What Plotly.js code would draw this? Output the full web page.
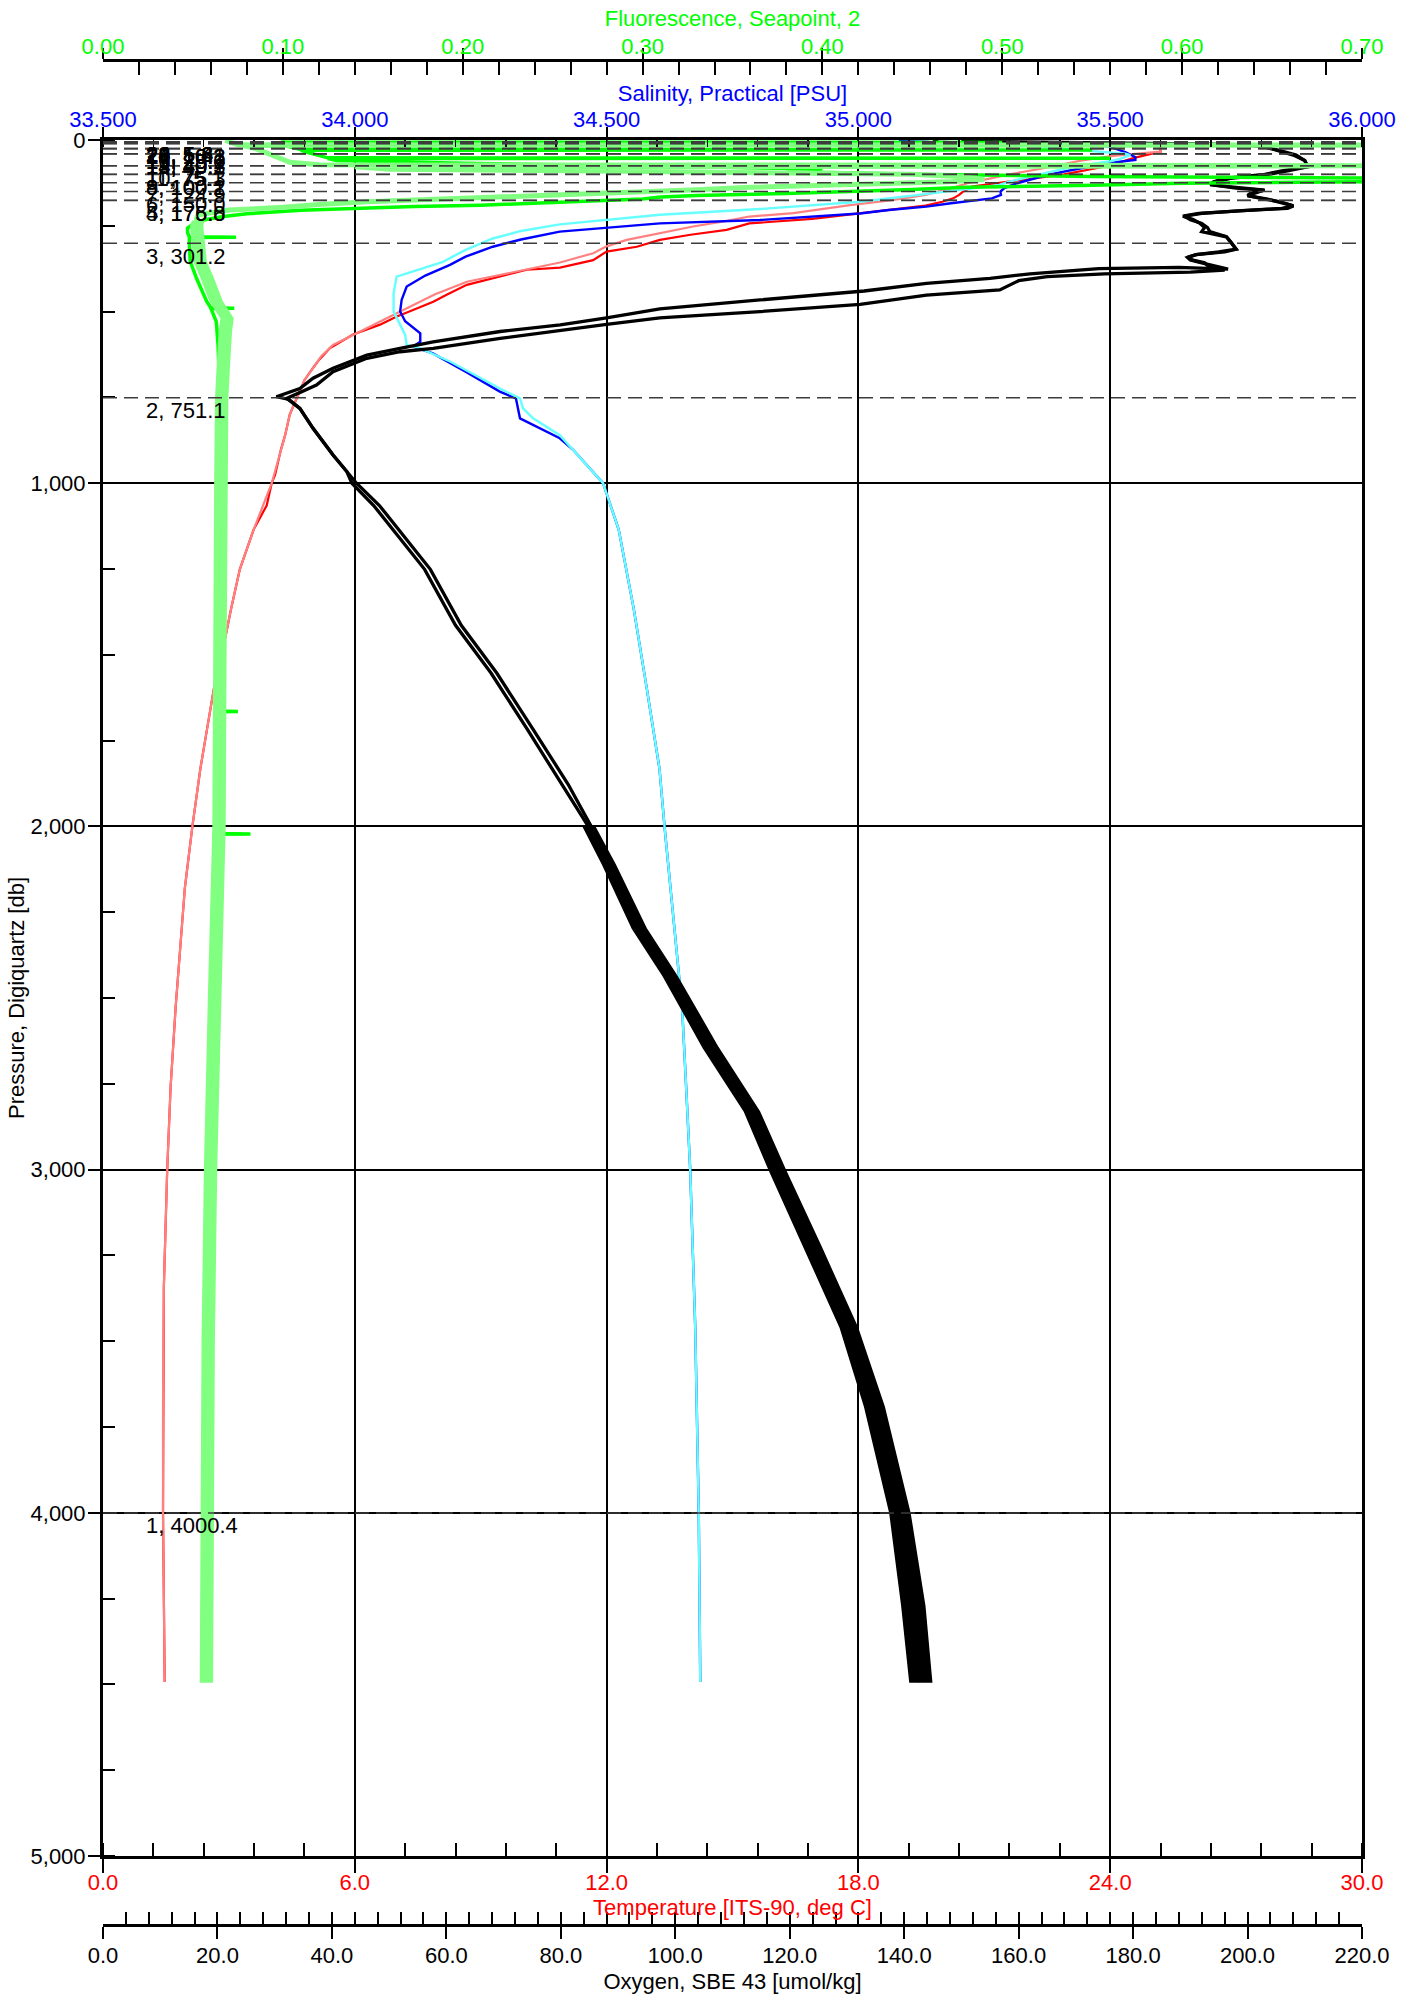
<!DOCTYPE html>
<html><head><meta charset="utf-8">
<script src="https://cdn.plot.ly/plotly-3.0.1.min.js"></script>
<style>html,body{margin:0;padding:0;background:#fff}#chart{width:1405px;height:1999px}</style>
</head><body><div id="chart"></div>
<script>
// ---------- DATA ----------
// Temperature, cast 1 (red) and cast 2 (salmon)
const tempP1 = [3,20,34,52,75,100,115,129,136,150,160,170,180,191,200,214,230,243,262,276,291,311,325,350,372,378,400,422,450,471,500,514,538,567,606,640,665,700,751,800,860,902,976,1000,1065,1135,1251,1367,1483,1600,1832,2000,2180,2529,2761,3000,3342,3691,4000,4493];
const tempT1 = [25.2,25.2,25.2,24.57,23.97,22.9,22.0,21.2,20.7,20.5,20.4,20.26,20.0,19.6,19.0,18.04,16.9,15.4,14.86,14.0,13.27,12.72,12.0,11.68,10.89,10.1,9.4,8.67,8.2,7.87,7.3,7.0,6.6,5.96,5.41,5.15,5.0,4.8,4.62,4.45,4.34,4.24,4.10,4.02,3.90,3.59,3.26,3.05,2.86,2.64,2.32,2.13,1.95,1.73,1.61,1.53,1.45,1.43,1.43,1.47];
const tempP2 = [3,25,34,46,60,83,100,126,141,160,175,190,200,213,223,235,252,270,291,310,330,357,385,413,450,500,530,568,597,630,665,700,751,800,860,902,1000,1135,1251,1367,1483,1600,1832,2000,2180,2529,2761,3000,3342,3691,4000,4493];
const tempT2 = [25.2,25.2,25.2,24.07,23.3,22.38,21.6,20.6,20.2,19.6,18.8,17.8,17.2,16.45,15.4,14.9,14.06,13.3,12.48,12.0,11.68,10.89,9.8,8.67,7.9,7.08,6.6,5.96,5.48,5.2,5.0,4.8,4.62,4.45,4.34,4.24,4.02,3.59,3.26,3.05,2.86,2.64,2.32,2.13,1.95,1.73,1.61,1.53,1.45,1.43,1.43,1.47];

// Salinity, cast 1 (blue) and cast 2 (cyan)
const salP1 = [3,6,10,20,35,50,58,65,80,100,126,140,150,160,170,175,185,194,204,214,224,233,243,267,290,311,340,364,395,427,466,500,528,563,588,602,622,675,733,753,811,869,902,1000,1135,1367,1600,1832,2000,2297,2529,2761,3000,3459,4000,4493];
const salS1 = [35.08,35.14,35.45,35.50,35.53,35.55,35.55,35.51,35.45,35.38,35.315,35.29,35.282,35.283,35.265,35.233,35.18,35.135,35.06,35.003,34.90,34.805,34.606,34.407,34.33,34.274,34.22,34.189,34.14,34.103,34.093,34.09,34.10,34.13,34.13,34.116,34.155,34.22,34.288,34.32,34.328,34.407,34.433,34.493,34.524,34.554,34.58,34.605,34.615,34.635,34.65,34.658,34.666,34.676,34.683,34.686];
const salP2 = [20,30,40,44,55,62,80,100,121,131,146,160,180,201,218,246,265,287,320,355,398,447,500,568,597,607,646,724,753,782,811,860,902,1000,1135,1367,1600,1832,2000,2297,2529,2761,3000,3459,4000,4493];
const salS2 = [35.36,35.45,35.53,35.54,35.52,35.50,35.42,35.36,35.30,35.28,35.20,35.12,35.003,34.805,34.606,34.407,34.33,34.274,34.22,34.175,34.083,34.077,34.077,34.10,34.103,34.13,34.19,34.288,34.328,34.334,34.354,34.407,34.433,34.493,34.524,34.554,34.58,34.605,34.615,34.635,34.65,34.658,34.666,34.676,34.683,34.686];

// Oxygen, two casts (both black) and the noise envelope of the deep record
const oxyP1 = [2,6,9,11,14,20,30,44,60,78,90,100,112,122,131,140,146,155,162,172,180,192,199,206,214,222,232,243,255,267,282,296,306,318,326,334,342,350,358,366,376,371,375,390,403,418,440,466,492,518,539,558,588,607,627,665,694,724,748,756,782,840,918,966,1000,1065,1158,1251,1414,1553,1716,1878,2000,2111,2297,2436,2645,2831,3000,3226,3459,3691,4000,4272,4493];
const oxyO1 = [145,146,150,181,200,203,205,208,210,210.5,207,203.6,197,194.5,194,198,202.8,201,200,203,205.7,208,207,199,192,189,190,192,193,193.4,196.3,197,197.5,198,196,191,189.5,190,192,194,196.6,188,174,162,155,143.9,133,114.8,97.3,88,79.9,69.4,57.7,51.9,46.1,40.2,36.7,34.4,30.3,32.5,34.4,36.7,40.2,42.6,43.5,47.3,51.8,56.2,61.6,67.8,74.1,80.3,84.8,88.3,93.6,99.0,106.1,113.3,117.7,123.9,130.2,134.7,139.1,141.4,142.7];
const oxyP2 = [4,8,12,16,20,30,44,60,78,90,100,112,122,131,140,146,155,162,172,180,192,199,206,214,222,232,243,255,267,282,296,306,318,326,334,342,350,358,366,379,385,390,398,410,437,452,479,500,518,537,554,578,607,617,636,675,714,753,782,840,918,966,1000,1065,1158,1251,1414,1553,1716,1878,2000,2111,2297,2436,2645,2831,3000,3226,3459,3691,4000,4272,4493];
const oxyO2 = [150,170,195,201,203,205.5,208.5,210,210.5,206,203,196,194,193.5,199,203,200.5,200,203.5,205.5,208,206,198,191.5,188.7,190.5,191.7,192.5,192,196.3,197,197.5,198,195,191,189.5,190.5,192.5,193,196,190,175,165,160,156.7,143.9,132.3,114.8,97.3,88,79.9,69.4,57.7,51.9,46.1,40.2,37.3,32.1,34.4,36.7,40.2,42.6,44.3,48.3,52.8,57.2,62.6,68.8,75.1,81.3,85.3,88.8,93.8,99.2,106.3,113.5,117.9,124.1,130.4,134.9,139.3,141.6,142.9];
const oxyBandP  = [2000,2111,2297,2436,2645,2831,3000,3226,3459,3691,4000,4272,4493];
const oxyBandLo = [83.9,87.3,92.5,97.9,104.9,112.1,116.4,122.5,128.8,133.1,137.5,139.6,141.0];
const oxyBandHi = [85.9,89.5,94.9,100.3,107.5,114.7,119.2,125.5,131.8,136.5,141.0,143.6,144.8];

// Fluorescence, cast 1 (green) and cast 2 (light green) with the noise envelope of cast 2 below the maximum
const fluP1 = [1,6,7,8,15,22,28,29,30,38,45,52,53,54,60,68,76,84,92,100,106,110,113,116,119,122,126,132,138,144,150,156,162,166,172,178,185,190,194,200,205,209,215,223,233,245,257,270,282,283,284,300,354,403,471,489,490,491,529,600,751,1000,1250,1500,1664,1665,1666,2000,2021,2022,2023,2500,3000,3500,4000,4493];
const fluF1 = [0.10,0.10,0.50,0.10,0.10,0.105,0.11,0.55,0.11,0.115,0.12,0.125,0.56,0.125,0.13,0.20,0.30,0.40,0.38,0.45,0.55,0.65,0.80,0.85,0.80,0.70,0.60,0.55,0.48,0.45,0.42,0.38,0.33,0.31,0.30,0.27,0.247,0.21,0.173,0.13,0.11,0.097,0.08,0.067,0.056,0.05,0.047,0.047,0.048,0.074,0.048,0.048,0.0485,0.052,0.0577,0.06,0.073,0.06,0.063,0.064,0.065,0.0652,0.0652,0.065,0.065,0.075,0.065,0.0645,0.064,0.082,0.064,0.062,0.0597,0.0585,0.0577,0.0574];
const fluP2 = [1,5,14,15,16,25,35,45,55,65,72,75,78,85,92,100,108,115,122,130,138,145,155,165,172,180,188,196,204,212,218,230,248,260,300,354,403,471,520,560,650,751,1000,1250,1500,1750,2000,2250,2500,2750,3000,3250,3500,3750,4000,4250,4493];
const fluF2 = [0.068,0.07,0.075,0.75,0.078,0.085,0.09,0.095,0.10,0.104,0.12,0.75,0.14,0.16,0.30,0.45,0.48,0.49,0.47,0.40,0.36,0.33,0.28,0.22,0.18,0.147,0.12,0.10,0.07,0.06,0.053,0.052,0.052,0.052,0.053,0.054,0.058,0.063,0.069,0.068,0.067,0.066,0.0655,0.0655,0.065,0.065,0.0645,0.063,0.062,0.0605,0.0598,0.059,0.0585,0.058,0.0578,0.0575,0.0575];
const fluBandP  = [235,250,300,354,403,471,520,560,650,751,1000,1500,2000,2500,3000,3500,4000,4493];
const fluBandLo = [0.0500,0.0487,0.0497,0.0507,0.0547,0.0597,0.0657,0.0647,0.0637,0.0627,0.0622,0.0617,0.0612,0.0587,0.0565,0.0552,0.0545,0.0542];
const fluBandHi = [0.0560,0.0553,0.0563,0.0573,0.0613,0.0663,0.0723,0.0713,0.0703,0.0693,0.0688,0.0683,0.0678,0.0653,0.0631,0.0618,0.0611,0.0608];

// Bottle firings: bottle number and pressure [db]
const bottleNum = [1,2,3,4,5,6,7,8,9,10,11,12,13,14,15,16,17,18,19,20,21,22,23,24];
const bottleP   = [4000.4,751.1,301.2,176.0,175.8,150.0,124.9,100.2,100.1,75.3,75.1,40.3,40.2,40.1,25.2,25.1,25.0,10.3,10.2,10.1,5.6,5.4,5.3,5.2];

// Axis titles
const titleFluor = 'Fluorescence, Seapoint, 2';
const titleSal = 'Salinity, Practical [PSU]';
const titleTemp = 'Temperature [ITS-90, deg C]';
const titleOxy = 'Oxygen, SBE 43 [umol/kg]';
const titlePres = 'Pressure, Digiquartz [db]';

// ---------- FIGURE ----------
const FONT = 'Liberation Sans, Arial, sans-serif';
const FS = 22;
const H = 1999;
const yDomain = [1 - 1856 / H, 1 - 140 / H];
const posFluor = 1 - 60 / H;
const posOxy = 1 - 1925 / H;

function line(x, y, xa, color, width) {
  return {type: 'scatter', mode: 'lines', x: x, y: y, xaxis: xa, yaxis: 'y',
    line: {color: color, width: width}, hoverinfo: 'skip', showlegend: false};
}
function band(lo, hi, p, xa, color) {
  return {type: 'scatter', mode: 'lines', xaxis: xa, yaxis: 'y',
    x: lo.concat(hi.slice().reverse()), y: p.concat(p.slice().reverse()),
    fill: 'toself', fillcolor: color, line: {color: color, width: 1.5},
    hoverinfo: 'skip', showlegend: false};
}

const traces = [
  line(tempT1, tempP1, 'x', '#ff0000', 2.2),
  line(tempT2, tempP2, 'x', '#ff8080', 2.2),
  line(salS1, salP1, 'x2', '#0000ff', 2.4),
  line(salS2, salP2, 'x2', '#66ffff', 2.4),
  band(oxyBandLo, oxyBandHi, oxyBandP, 'x3', '#000000'),
  line(oxyO1, oxyP1, 'x3', '#000000', 3.3),
  line(oxyO2, oxyP2, 'x3', '#000000', 3.3),
  line(fluF1, fluP1, 'x4', '#00ff00', 3.5),
  band(fluBandLo, fluBandHi, fluBandP, 'x4', '#80ff80'),
  line(fluF2, fluP2, 'x4', '#80ff80', 5),
  {type: 'scatter', x: [], y: [], xaxis: 'x5', yaxis: 'y', showlegend: false},
  {type: 'scatter', x: [], y: [], xaxis: 'x6', yaxis: 'y', showlegend: false}
];

function ax(extra) {
  return Object.assign({
    showgrid: false, zeroline: false, showline: true, linecolor: 'black', linewidth: 3,
    ticks: 'outside', tickcolor: 'black', tickwidth: 2, fixedrange: true, automargin: false
  }, extra);
}

const layout = {
  width: 1405, height: 1999,
  margin: {l: 103, r: 43, t: 0, b: 0, pad: 0},
  paper_bgcolor: '#fff', plot_bgcolor: '#fff',
  showlegend: false,
  font: {family: FONT, size: FS, color: 'black'},
  xaxis: ax({domain: [0, 1], anchor: 'y', side: 'bottom', range: [0, 30], tick0: 0, dtick: 6,
    tickformat: '.1f', ticklen: 14, ticklabelstandoff: -9, tickfont: {family: FONT, size: FS, color: '#ff0000'},
    showgrid: true, gridcolor: 'black', gridwidth: 2,
    minor: {tick0: 0, dtick: 1.2, ticks: 'inside', ticklen: 13, tickwidth: 2, tickcolor: 'black', showgrid: false},
    title: {text: titleTemp, font: {family: FONT, size: FS, color: '#ff0000'}, standoff: 2}}),
  xaxis2: ax({overlaying: 'x', anchor: 'y', side: 'top', range: [33.5, 36], tick0: 33.5, dtick: 0.5,
    tickformat: '.3f', ticklen: 10, ticklabelstandoff: -9, tickfont: {family: FONT, size: FS, color: '#0000ff'},
    minor: {tick0: 33.5, dtick: 0.1, ticks: 'inside', ticklen: 7, tickwidth: 1.5, tickcolor: 'black', showgrid: false},
    title: {text: titleSal, font: {family: FONT, size: FS, color: '#0000ff'}, standoff: 0}}),
  xaxis3: ax({overlaying: 'x', anchor: 'free', position: posOxy, side: 'bottom', range: [0, 220], tick0: 0, dtick: 20,
    tickformat: '.1f', ticklen: 12, ticklabelstandoff: -2, tickfont: {family: FONT, size: FS, color: 'black'},
    title: {text: titleOxy, font: {family: FONT, size: FS, color: 'black'}, standoff: 6}}),
  xaxis4: ax({overlaying: 'x', anchor: 'free', position: posFluor, side: 'top', range: [0, 0.7], tick0: 0, dtick: 0.1,
    tickformat: '.2f', ticklen: 11, ticklabelstandoff: -15, tickfont: {family: FONT, size: FS, color: '#00ff00'},
    title: {text: titleFluor, font: {family: FONT, size: FS, color: '#00ff00'}, standoff: 0}}),
  xaxis5: ax({overlaying: 'x', anchor: 'free', position: posFluor, side: 'top', range: [0, 0.7], tick0: 0, dtick: 0.02,
    ticks: 'inside', ticklen: 14, showticklabels: false, showline: false}),
  xaxis6: ax({overlaying: 'x', anchor: 'free', position: posOxy, side: 'bottom', range: [0, 220], tick0: 0, dtick: 4,
    ticks: 'inside', ticklen: 13, showticklabels: false, showline: false}),
  yaxis: ax({domain: yDomain, anchor: 'x', range: [5000, 0], tick0: 0, dtick: 1000, tickformat: ',d',
    ticklen: 12, ticklabelstandoff: -2, mirror: true, tickfont: {family: FONT, size: FS, color: 'black'},
    showgrid: true, gridcolor: 'black', gridwidth: 2,
    minor: {tick0: 0, dtick: 250, ticks: 'inside', ticklen: 12, tickwidth: 2, tickcolor: 'black', showgrid: false},
    title: {text: titlePres, font: {family: FONT, size: FS, color: 'black'}, standoff: 0}}),
  shapes: bottleP.map(p => ({type: 'line', xref: 'paper', x0: 0, x1: 1, yref: 'y', y0: p, y1: p,
    line: {color: '#3c3c3c', width: 1.5, dash: '14px,7px'}, layer: 'above'})),
  annotations: bottleNum.map((n, i) => ({xref: 'paper', x: 41 / 1259, xanchor: 'left',
    yref: 'y', y: bottleP[i], yanchor: 'middle', yshift: -13, showarrow: false,
    text: n + ', ' + bottleP[i].toFixed(1), font: {family: FONT, size: FS, color: 'black'}}))
};

Plotly.newPlot('chart', traces, layout, {displayModeBar: false, staticPlot: true});
</script></body></html>
